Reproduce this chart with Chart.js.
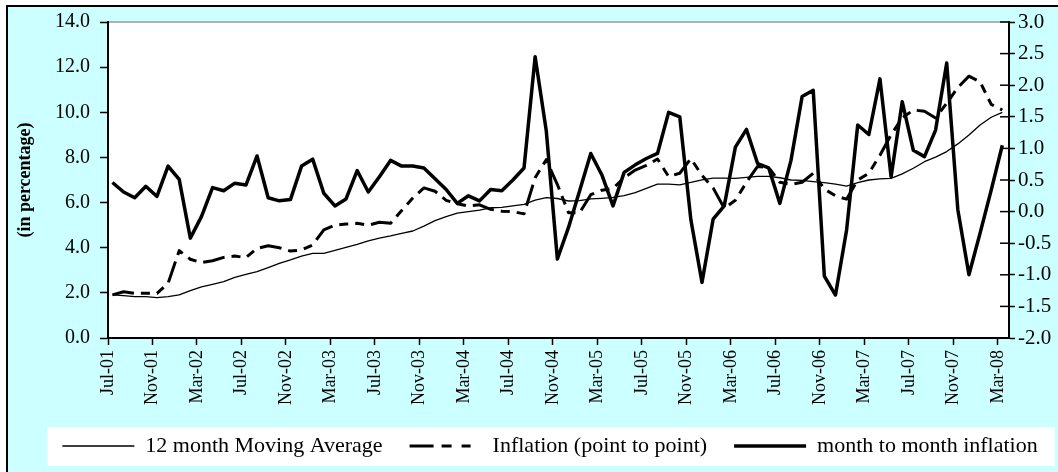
<!DOCTYPE html>
<html>
<head>
<meta charset="utf-8">
<title>Inflation</title>
<script src="https://cdn.jsdelivr.net/npm/chart.js@4.4.0/dist/chart.umd.min.js"></script>
<style>
  html, body { margin: 0; padding: 0; overflow: hidden; background: #fff; }
  #wrap { position: relative; width: 1100px; height: 472px; }
</style>
</head>
<body>
<div id="wrap"><canvas id="graficoInflacion"></canvas></div>
<script>
// meses (una observación por mes)
const months = [
  'Jul-01','Aug-01','Sep-01','Oct-01','Nov-01','Dec-01',
  'Jan-02','Feb-02','Mar-02','Apr-02','May-02','Jun-02','Jul-02','Aug-02','Sep-02','Oct-02','Nov-02','Dec-02',
  'Jan-03','Feb-03','Mar-03','Apr-03','May-03','Jun-03','Jul-03','Aug-03','Sep-03','Oct-03','Nov-03','Dec-03',
  'Jan-04','Feb-04','Mar-04','Apr-04','May-04','Jun-04','Jul-04','Aug-04','Sep-04','Oct-04','Nov-04','Dec-04',
  'Jan-05','Feb-05','Mar-05','Apr-05','May-05','Jun-05','Jul-05','Aug-05','Sep-05','Oct-05','Nov-05','Dec-05',
  'Jan-06','Feb-06','Mar-06','Apr-06','May-06','Jun-06','Jul-06','Aug-06','Sep-06','Oct-06','Nov-06','Dec-06',
  'Jan-07','Feb-07','Mar-07','Apr-07','May-07','Jun-07','Jul-07','Aug-07','Sep-07','Oct-07','Nov-07','Dec-07',
  'Jan-08','Feb-08','Mar-08'
];

// 12 month Moving Average (eje izquierdo)
const movingAvg = [
  1.91, 1.88, 1.83, 1.83, 1.79, 1.83,
  1.91, 2.10, 2.27, 2.38, 2.50, 2.69, 2.82, 2.94, 3.12, 3.31, 3.46, 3.63,
  3.75, 3.75, 3.88, 4.02, 4.15, 4.30, 4.42, 4.52, 4.64, 4.74, 4.96, 5.20,
  5.38, 5.53, 5.60, 5.67, 5.77, 5.79, 5.85, 5.92, 6.11, 6.22, 6.18, 6.07,
  6.09, 6.16, 6.19, 6.23, 6.31, 6.44, 6.63, 6.82, 6.82, 6.78, 6.90, 7.01,
  7.08, 7.08, 7.07, 7.12, 7.16, 7.16, 7.10, 7.00, 6.98, 6.93, 6.88, 6.82,
  6.73, 6.88, 7.00, 7.05, 7.07, 7.27, 7.52, 7.81, 8.01, 8.26, 8.60, 8.99,
  9.44, 9.78, 10.00
];

// Inflation (point to point) (eje izquierdo)
const pointToPoint = [
  1.91, 2.05, 1.98, 1.98, 1.98, 2.42,
  3.87, 3.49, 3.34, 3.42, 3.57, 3.63, 3.56, 3.97, 4.09, 4.00, 3.85, 3.90,
  4.12, 4.79, 5.00, 5.05, 5.08, 5.00, 5.13, 5.08, 5.65, 6.20, 6.65, 6.50,
  6.10, 5.95, 5.85, 5.90, 5.70, 5.62, 5.60, 5.50, 7.10, 7.90, 6.80, 5.55,
  5.55, 6.35, 6.55, 6.63, 7.10, 7.44, 7.65, 7.93, 7.15, 7.30, 7.95, 7.20,
  6.65, 5.75, 6.10, 6.90, 7.60, 7.55, 6.90, 6.80, 6.90, 7.30, 6.60, 6.30,
  6.15, 7.00, 7.30, 8.10, 9.00, 9.75, 10.10, 10.05, 9.75, 10.40, 11.10, 11.60,
  11.35, 10.35, 10.10
];

// month to month inflation (eje derecho)
const monthToMonth = [
  0.46, 0.31, 0.22, 0.40, 0.24, 0.72,
  0.51, -0.42, -0.08, 0.38, 0.33, 0.45, 0.42, 0.88, 0.22, 0.17, 0.19, 0.72,
  0.83, 0.29, 0.09, 0.20, 0.65, 0.31, 0.55, 0.81, 0.72, 0.72, 0.69, 0.52,
  0.35, 0.13, 0.25, 0.17, 0.35, 0.33, 0.50, 0.69, 2.45, 1.28, -0.75, -0.25,
  0.33, 0.92, 0.58, 0.09, 0.62, 0.74, 0.84, 0.92, 1.57, 1.50, -0.13, -1.12,
  -0.12, 0.09, 1.02, 1.30, 0.76, 0.69, 0.13, 0.81, 1.82, 1.92, -1.02, -1.32,
  -0.29, 1.37, 1.22, 2.10, 0.55, 1.74, 0.97, 0.87, 1.29, 2.35, 0.03, -1.00,
  -0.34, 0.34, 1.05
];

// los datos caen a mitad de mes; las marcas del eje están al inicio del mes
const MID = 0.4;
const SERIF = "'Liberation Serif', 'Times New Roman', serif";
const toPoints = serie => serie.map((v, i) => ({ x: i + MID, y: v }));

// fondo celeste, área blanca, caja blanca de la leyenda
const fondo = {
  id: 'fondo',
  beforeDraw(chart) {
    const { ctx, chartArea: a, legend } = chart;
    ctx.save();
    ctx.fillStyle = '#ffffff';
    ctx.fillRect(0, 0, chart.width, chart.height);
    ctx.fillStyle = '#ccffff';
    ctx.fillRect(7, 6, chart.width, chart.height);
    ctx.strokeStyle = '#000';
    ctx.lineWidth = 2;
    ctx.beginPath();
    ctx.moveTo(7, chart.height);
    ctx.lineTo(7, 6);
    ctx.lineTo(chart.width, 6);
    ctx.stroke();

    ctx.fillStyle = '#ffffff';
    ctx.fillRect(a.left, a.top, a.right - a.left, a.bottom - a.top);
    ctx.strokeStyle = '#999999';
    ctx.lineWidth = 1.5;
    ctx.beginPath();
    ctx.moveTo(a.left, a.top);
    ctx.lineTo(a.right, a.top);
    ctx.stroke();

    const hb = legend.legendHitBoxes;
    if (hb && hb.length) {
      const first = hb[0], last = hb[hb.length - 1];
      const mid = first.top + first.height / 2;
      ctx.fillStyle = '#ffffff';
      ctx.fillRect(first.left - 15, mid - 19, last.left + last.width + 32 - first.left, 39);
    }
    ctx.restore();
  },
  afterDraw(chart) {
    // marcas del eje derecho que cruzan hacia dentro
    const { ctx, chartArea: a } = chart;
    const s = chart.scales.y2;
    ctx.save();
    ctx.strokeStyle = '#000';
    ctx.lineWidth = 1.5;
    s.ticks.forEach(t => {
      const y = s.getPixelForValue(t.value);
      ctx.beginPath();
      ctx.moveTo(a.right - 9, y);
      ctx.lineTo(a.right, y);
      ctx.stroke();
    });
    ctx.restore();
  }
};

const ctx = document.getElementById('graficoInflacion').getContext('2d');
new Chart(ctx, {
  type: 'line',
  data: {
    datasets: [{
      label: '12 month Moving Average',
      data: toPoints(movingAvg),
      borderColor: '#000',
      borderWidth: 1.3,
      yAxisID: 'y'
    }, {
      label: 'Inflation (point to point)',
      data: toPoints(pointToPoint),
      borderColor: '#000',
      borderWidth: 3,
      borderDash: [22, 7, 9, 7, 9, 7],
      yAxisID: 'y'
    }, {
      label: 'month to month inflation',
      data: toPoints(monthToMonth),
      borderColor: '#000',
      borderWidth: 3.5,
      yAxisID: 'y2'
    }]
  },
  options: {
    responsive: true,
    maintainAspectRatio: false,
    animation: false,
    events: [],
    layout: { padding: { left: 0, right: 0, top: 22, bottom: 5 } },
    elements: {
      point: { radius: 0, pointStyle: 'line' },
      line: { tension: 0, fill: false, borderJoinStyle: 'round' }
    },
    plugins: {
      tooltip: { enabled: false },
      legend: {
        position: 'bottom',
        labels: {
          usePointStyle: true,
          pointStyle: 'line',
          pointStyleWidth: 72,
          padding: 27,
          color: '#000',
          font: { family: SERIF, size: 22 },
          generateLabels(chart) {
            const items = Chart.defaults.plugins.legend.labels.generateLabels(chart);
            // muestra: trazo largo y dos cortos
            items[1].lineDash = [24, 8, 10, 10, 9, 100];
            return items;
          }
        }
      }
    },
    scales: {
      x: {
        type: 'linear',
        min: 0,
        max: months.length,
        afterFit: s => { s.height = 70; },
        grid: { drawOnChartArea: false, tickLength: 7, color: '#000', tickWidth: 1.5 },
        border: { color: '#000', width: 2 },
        ticks: {
          stepSize: 4,
          includeBounds: false,
          autoSkip: false,
          minRotation: 90,
          maxRotation: 90,
          padding: 5,
          color: '#000',
          font: { family: SERIF, size: 18 },
          callback: v => months[v]
        }
      },
      y: {
        position: 'left',
        min: 0,
        max: 14,
        afterFit: s => { s.width = 108; },
        grid: { drawOnChartArea: false, tickLength: 8, color: '#000', tickWidth: 1.5 },
        border: { color: '#000', width: 2 },
        title: {
          display: true,
          text: '(in percentage)',
          color: '#000',
          padding: { top: 15, bottom: 0 },
          font: { family: SERIF, size: 18, weight: 'bold' }
        },
        ticks: {
          stepSize: 2,
          padding: 10,
          color: '#000',
          font: { family: SERIF, size: 20 },
          callback: v => v.toFixed(1)
        }
      },
      y2: {
        position: 'right',
        min: -2,
        max: 3,
        afterFit: s => { s.width = 91; },
        grid: { drawOnChartArea: false, tickLength: 6, color: '#000', tickWidth: 1.5 },
        border: { color: '#000', width: 2 },
        ticks: {
          stepSize: 0.5,
          padding: 3,
          color: '#000',
          font: { family: SERIF, size: 21 },
          callback: v => v.toFixed(1)
        }
      }
    }
  },
  plugins: [fondo]
});
</script>
</body>
</html>
